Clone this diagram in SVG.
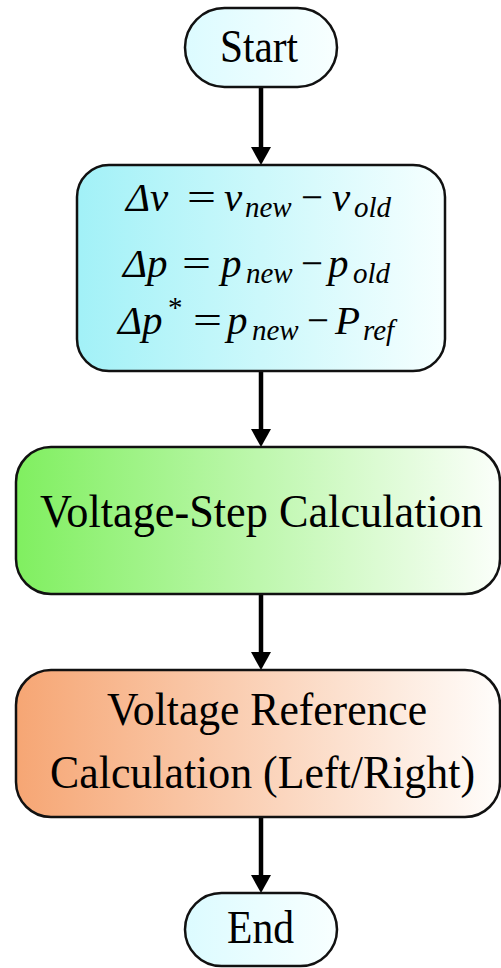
<svg xmlns="http://www.w3.org/2000/svg" width="501" height="968" viewBox="0 0 501 968">
<style>
.box{stroke:#111;stroke-width:2.5}
.lbl{font-family:"Liberation Serif","Times New Roman",serif;font-size:46px;fill:#000;text-anchor:middle}
.eq{font-family:"Liberation Serif","Times New Roman",serif;font-size:41px;fill:#000;font-style:italic}
.sub{font-size:29px}
.op{font-style:normal}
.conn{stroke:#000;stroke-width:4.5;fill:none;marker-end:url(#ah)}
</style>
<defs>
<linearGradient id="gTerm" x1="0" y1="0" x2="1" y2="0"><stop offset="0" stop-color="#dcfbff"/><stop offset="1" stop-color="#f8ffff"/></linearGradient>
<linearGradient id="gCyan" x1="0" y1="0" x2="1" y2="0"><stop offset="0" stop-color="#a2f1f7"/><stop offset="1" stop-color="#f6ffff"/></linearGradient>
<linearGradient id="gGreen" x1="0" y1="0" x2="1" y2="0"><stop offset="0" stop-color="#80ef60"/><stop offset="1" stop-color="#fbfffa"/></linearGradient>
<linearGradient id="gOrange" x1="0" y1="0" x2="1" y2="0"><stop offset="0" stop-color="#f6a674"/><stop offset="1" stop-color="#fffdfb"/></linearGradient>
<marker id="ah" markerUnits="userSpaceOnUse" markerWidth="18" markerHeight="20" viewBox="0 0 18 20" refX="2" refY="10" orient="auto"><path d="M0,0 L18,10 L0,20 z" fill="#000"/></marker>
</defs>
<g id="connectors">
<line class="conn" x1="261" y1="88" x2="261" y2="149"/>
<line class="conn" x1="261" y1="371" x2="261" y2="431"/>
<line class="conn" x1="261" y1="594" x2="261" y2="654"/>
<line class="conn" x1="261" y1="817" x2="261" y2="877"/>
</g>
<g id="start">
<rect class="box" x="185" y="8" width="152" height="79" rx="39.5" fill="url(#gTerm)"/>
<text class="lbl" x="259" y="62" textLength="78" lengthAdjust="spacingAndGlyphs">Start</text>
</g>
<g id="deltas">
<rect class="box" x="77" y="165" width="368" height="206" rx="32" fill="url(#gCyan)"/>
<text class="eq"><tspan x="126" y="211">Δv</tspan><tspan class="op" x="187" y="211" textLength="29" lengthAdjust="spacingAndGlyphs">=</tspan><tspan x="224" y="211">v</tspan><tspan class="sub" x="245" y="217">new</tspan><tspan class="op" x="301" y="211" textLength="22" lengthAdjust="spacingAndGlyphs">−</tspan><tspan x="332" y="211">v</tspan><tspan class="sub" x="354" y="217">old</tspan></text>
<text class="eq"><tspan x="123" y="277">Δp</tspan><tspan class="op" x="182" y="277" textLength="29" lengthAdjust="spacingAndGlyphs">=</tspan><tspan x="221" y="277">p</tspan><tspan class="sub" x="246" y="283">new</tspan><tspan class="op" x="301" y="277" textLength="22" lengthAdjust="spacingAndGlyphs">−</tspan><tspan x="328" y="277">p</tspan><tspan class="sub" x="353" y="283">old</tspan></text>
<text class="eq"><tspan x="118" y="334">Δp</tspan><tspan class="op sub" x="168" y="317">*</tspan><tspan class="op" x="193" y="334" textLength="29" lengthAdjust="spacingAndGlyphs">=</tspan><tspan x="227" y="334">p</tspan><tspan class="sub" x="252" y="340">new</tspan><tspan class="op" x="307" y="334" textLength="22" lengthAdjust="spacingAndGlyphs">−</tspan><tspan x="335" y="334">P</tspan><tspan class="sub" x="363" y="340">ref</tspan></text>
</g>
<g id="voltage-step">
<rect class="box" x="16" y="447" width="484" height="147" rx="35" fill="url(#gGreen)"/>
<text class="lbl" x="261.5" y="527" font-size="48" textLength="443" lengthAdjust="spacingAndGlyphs">Voltage-Step Calculation</text>
</g>
<g id="voltage-reference">
<rect class="box" x="16" y="670" width="484" height="147" rx="35" fill="url(#gOrange)"/>
<text class="lbl" x="267" y="725" font-size="48" textLength="320" lengthAdjust="spacingAndGlyphs">Voltage Reference</text>
<text class="lbl" x="262.5" y="788" font-size="48" textLength="425" lengthAdjust="spacingAndGlyphs">Calculation (Left/Right)</text>
</g>
<g id="end">
<rect class="box" x="185" y="893" width="152" height="73" rx="36.5" fill="url(#gTerm)"/>
<text class="lbl" x="260.5" y="943" textLength="67" lengthAdjust="spacingAndGlyphs">End</text>
</g>
</svg>
